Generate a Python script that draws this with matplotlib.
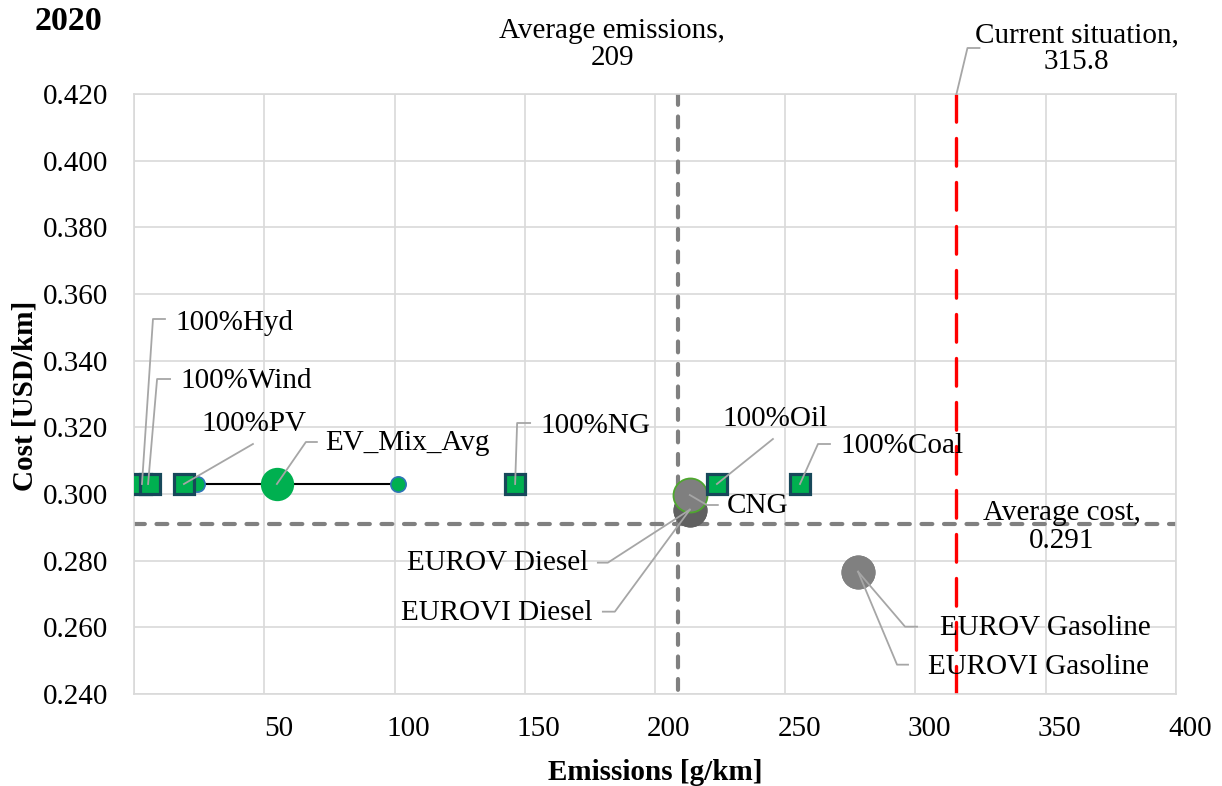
import matplotlib
matplotlib.use("Agg")
import matplotlib.pyplot as plt
from matplotlib.lines import Line2D
from matplotlib.transforms import IdentityTransform, ScaledTranslation

# ---------------- data ----------------
ev_labels = ["100%Hyd", "100%Wind", "100%PV", "100%NG", "100%Oil", "100%Coal"]
ev_emissions = [2.6, 6.1, 19.1, 146.3, 223.8, 255.7]
ev_cost = [0.303, 0.303, 0.303, 0.303, 0.303, 0.303]

mix_label = "EV_Mix_Avg"
mix_range_emissions = [24.1, 101.3]
mix_avg_emissions = [54.8]
mix_cost = [0.303]

ice_labels = ["CNG", "EUROV Diesel", "EUROVI Diesel", "EUROV Gasoline", "EUROVI Gasoline"]
ice_emissions = [213.4, 213.4, 213.4, 278.0, 278.0]
ice_cost = [0.2997, 0.2953, 0.2953, 0.2767, 0.2767]

avg_emissions = 209
avg_cost = 0.291
current_situation = 315.8

x_ticks = [0, 50, 100, 150, 200, 250, 300, 350, 400]
x_tick_labels = ["", "50", "100", "150", "200", "250", "300", "350", "400"]
y_ticks = [0.24, 0.26, 0.28, 0.30, 0.32, 0.34, 0.36, 0.38, 0.40, 0.42]
y_tick_labels = ["0.240", "0.260", "0.280", "0.300", "0.320", "0.340",
                 "0.360", "0.380", "0.400", "0.420"]

# ---------------- style ----------------
plt.rcParams["font.family"] = ["Liberation Serif", "DejaVu Serif"]
FS = 21
W, H = 1222, 786
GREEN = "#00B050"
SQ_EDGE = "#17485A"
LEADER = "#A6A6A6"

fig = plt.figure(figsize=(W / 100, H / 100), dpi=100)
ax = fig.add_axes([134.2 / W, 1 - 694 / H, (1175.7 - 134.2) / W, 600 / H])
ax.set_xlim(0, 400)
ax.set_ylim(0.24, 0.42)

ax.set_xticks(x_ticks)
ax.set_xticklabels(x_tick_labels)
ax.set_yticks(y_ticks)
ax.set_yticklabels(y_tick_labels)
ax.tick_params(axis="both", length=0, labelsize=FS)
ax.tick_params(axis="x", pad=16)
ax.tick_params(axis="y", pad=18.5)
shift = ScaledTranslation(14 / 100, 0, fig.dpi_scale_trans)
for lab in ax.get_xticklabels():
    lab.set_transform(lab.get_transform() + shift)

ax.grid(True, color="#D9D9D9", lw=1.2)
ax.set_axisbelow(True)
for s in ax.spines.values():
    s.set_color("#D9D9D9")
    s.set_linewidth(1.2)

# reference lines (drawn from the top / left like the original)
ax.plot([avg_emissions, avg_emissions], [0.42, 0.24], color="#808080", lw=3,
        linestyle=(0, (2.6, 2.8)), dash_capstyle="round", zorder=2)
ax.plot([0, 400], [avg_cost, avg_cost], color="#808080", lw=3,
        linestyle=(0, (2.6, 2.8)), dash_capstyle="round", zorder=2)
ax.plot([current_situation, current_situation], [0.42, 0.24], color="#FF0000", lw=2.4,
        linestyle=(0, (8.3, 4.9)), dash_capstyle="round", zorder=2)

# EV mix range line and points
ax.plot(mix_range_emissions, mix_cost * 2, color="black", lw=1.5, zorder=3)
ax.plot(mix_range_emissions, mix_cost * 2, linestyle="none", marker="o", ms=11,
        mfc=GREEN, mec="#2E75B6", mew=1.2, zorder=4)
ax.plot(mix_avg_emissions, mix_cost, linestyle="none", marker="o", ms=24,
        mfc=GREEN, mec=GREEN, mew=0, zorder=4)

# ICE vehicles
ice_face = ["#7F7F7F", "#606060", "#606060", "#808080", "#808080"]
ice_edge = ["#4EA72E", "#606060", "#606060", "#808080", "#808080"]
ice_ew = [1.3, 0, 0, 0, 0]
order = [1, 2, 3, 4, 0]
for i in order:
    ax.plot([ice_emissions[i]], [ice_cost[i]], linestyle="none", marker="o", ms=24.5,
            mfc=ice_face[i], mec=ice_edge[i], mew=ice_ew[i], zorder=5)

# EV squares
ax.plot(ev_emissions, ev_cost, linestyle="none", marker="s", ms=14.5,
        mfc=GREEN, mec=SQ_EDGE, mew=2.3, zorder=6)

# ---------------- labels with leader lines ----------------
# offsets in image pixels (x right, y down) relative to marker centre
label_layout = {
    "100%Hyd": ((34, -161), "left", [(1, 0), (12, -165), (24, -165)]),
    "100%Wind": ((30, -103), "left", [(-2, 0), (7, -105), (20, -105)]),
    "100%PV": ((18, -60), "left", [(0, 0), (69, -40)]),
    "100%NG": ((25, -58), "left", [(0, 0), (2, -61), (15, -61)]),
    "100%Oil": ((6, -65), "left", [(0, 0), (56, -45)]),
    "100%Coal": ((40, -38), "left", [(0, 0), (18, -40), (30, -40)]),
    "EV_Mix_Avg": ((48, -41), "left", [(0, 0), (29, -42), (40, -42)]),
    "CNG": ((37, 11), "left", [(0, 0), (17, 10), (28, 10)]),
    "EUROV Diesel": ((-102, 53), "right", [(0, 0), (-82, 53), (-92, 53)]),
    "EUROVI Diesel": ((-97, 103), "right", [(0, 0), (-75, 102), (-87, 102)]),
    "EUROV Gasoline": ((82, 56), "left", [(0, 0), (47, 55), (59, 55)]),
    "EUROVI Gasoline": ((70, 95), "left", [(0, 0), (39, 93), (50, 93)]),
}


def leader(xd, yd, pts, color=LEADER):
    px, py = ax.transData.transform((xd, yd))
    xs = [px + dx for dx, dy in pts]
    ys = [py - dy for dx, dy in pts]
    fig.add_artist(Line2D(xs, ys, transform=IdentityTransform(), color=color,
                          lw=1.3, zorder=10))


def label(name, xd, yd):
    (tx, ty), ha, pts = label_layout[name]
    ax.annotate(name, xy=(xd, yd), xytext=(tx, -ty), textcoords="offset pixels",
                ha=ha, va="center", fontsize=FS, zorder=10, annotation_clip=False)
    leader(xd, yd, pts)


for n, x, y in zip(ev_labels, ev_emissions, ev_cost):
    label(n, x, y)
label(mix_label, mix_avg_emissions[0], mix_cost[0])
for n, x, y in zip(ice_labels, ice_emissions, ice_cost):
    label(n, x, y)

# reference line labels
ax.annotate(f"Average emissions,\n{avg_emissions}", xy=(avg_emissions, 0.42),
            xytext=(-66, 49), textcoords="offset pixels", ha="center", va="center",
            multialignment="center", fontsize=FS, linespacing=1.05, annotation_clip=False)
ax.annotate(f"Current situation,\n{current_situation}", xy=(current_situation, 0.42),
            xytext=(120, 45), textcoords="offset pixels", ha="center", va="center",
            multialignment="center", fontsize=FS, linespacing=1.05, annotation_clip=False)
leader(current_situation, 0.42, [(0, 0), (11, -46), (23, -46)])
ax.annotate(f"Average cost,\n{avg_cost}", xy=(400, avg_cost),
            xytext=(-114, -3), textcoords="offset pixels", ha="center", va="center",
            multialignment="center", fontsize=FS, linespacing=1.05, annotation_clip=False)

# axis titles
ax.set_xlabel("Emissions [g/km]", fontsize=FS, fontweight="bold")
ax.xaxis.set_label_coords(0.5, -(772 - 694) / 600)
ax.xaxis.label.set_va("center")
ax.set_ylabel("Cost [USD/km]", fontsize=FS, fontweight="bold")
ax.yaxis.set_label_coords((25 - 134.2) / 1041.5, (694 - 396) / 600)
ax.yaxis.label.set_va("center")

fig.text(35 / W, 1 - 21 / H, "2020", fontsize=24.5, fontweight="bold",
         ha="left", va="center")

fig.savefig("out.png", dpi=100)
